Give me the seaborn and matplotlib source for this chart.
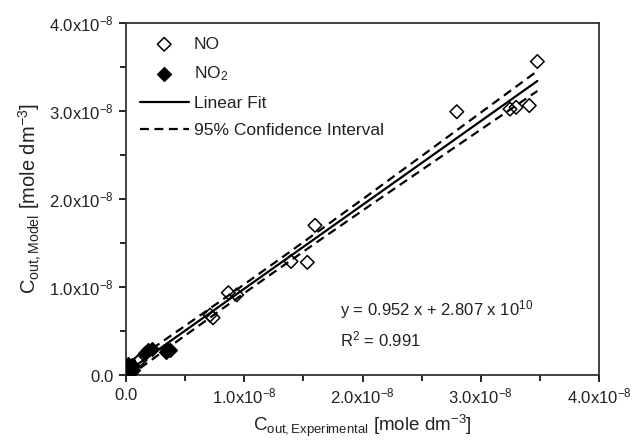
import numpy as np
import pandas as pd
import matplotlib
matplotlib.use('Agg')
import matplotlib.pyplot as plt
import seaborn as sns

# values in units of 1e-8 mole dm^-3
no_exp = [3.478, 2.797, 3.247, 3.298, 3.410, 1.598, 1.395, 1.533,
          0.865, 0.936, 0.710, 0.736, 0.100, 0.120]
no_model = [3.56, 2.99, 3.02, 3.04, 3.06, 1.70, 1.29, 1.28,
            0.935, 0.91, 0.68, 0.65, 0.15, 0.17]
no2_exp = [0.16, 0.19, 0.22, 0.34, 0.37, 0.35, 0.05, 0.06, 0.03, 0.04, 0.02]
no2_model = [0.25, 0.28, 0.29, 0.26, 0.28, 0.29, 0.11, 0.06, 0.08, 0.03, 0.12]

slope = 0.952
intercept = 2.807e-10
t_95 = 2.06

tick_vals = [0.0, 1e-8, 2e-8, 3e-8, 4e-8]
tick_labels = [r'$\mathregular{0.0}$', r'$\mathregular{1.0x10^{-8}}$',
               r'$\mathregular{2.0x10^{-8}}$', r'$\mathregular{3.0x10^{-8}}$',
               r'$\mathregular{4.0x10^{-8}}$']

sns.set_style("ticks")
plt.rcParams['font.family'] = ['Liberation Sans', 'DejaVu Sans']
plt.rcParams['mathtext.fontset'] = 'custom'
plt.rcParams['mathtext.rm'] = 'Liberation Sans'
plt.rcParams['mathtext.it'] = 'Liberation Sans:italic'

df = pd.DataFrame({
    'exp': np.concatenate([no_exp, no2_exp]) * 1e-8,
    'model': np.concatenate([no_model, no2_model]) * 1e-8,
    'species': ['NO'] * len(no_exp) + ['NO2'] * len(no2_exp),
})

# linear fit and 95% confidence band of the mean
xs = np.linspace(df['exp'].min(), df['exp'].max(), 200)
fit = slope * xs + intercept
resid = df['model'] - (slope * df['exp'] + intercept)
n = len(df)
s = np.sqrt((resid ** 2).sum() / (n - 2))
xm = df['exp'].mean()
sxx = ((df['exp'] - xm) ** 2).sum()
half = t_95 * s * np.sqrt(1 / n + (xs - xm) ** 2 / sxx)

fig = plt.figure(figsize=(6.38, 4.47), dpi=100)
ax = fig.add_axes([0.1975, 0.161, 0.7415, 0.788])

sns.scatterplot(data=df[df['species'] == 'NO'], x='exp', y='model', ax=ax,
                marker='D', s=48, facecolor='none', edgecolor='black',
                linewidth=1.1, label='NO', zorder=3)
sns.scatterplot(data=df[df['species'] == 'NO2'], x='exp', y='model', ax=ax,
                marker='D', s=48, color='black', edgecolor='black',
                linewidth=1.1, label=r'NO$_2$', zorder=3)
ax.plot(xs, fit, color='black', lw=1.6, label='Linear Fit')
ax.plot(xs, fit + half, color='black', lw=1.6, ls=(0, (4, 2.5)),
        label='95% Confidence Interval')
ax.plot(xs, fit - half, color='black', lw=1.6, ls=(0, (4, 2.5)))

ax.set_xlim(0, 4e-8)
ax.set_ylim(0, 4e-8)
ax.set_xticks(tick_vals, tick_labels)
ax.set_yticks(tick_vals, tick_labels)
ax.set_xticks([0.5e-8, 1.5e-8, 2.5e-8, 3.5e-8], minor=True)
ax.set_yticks([0.5e-8, 1.5e-8, 2.5e-8, 3.5e-8], minor=True)
ax.tick_params(which='both', direction='out', width=1.2, labelsize=12,
               color='black', labelcolor='#222222')
ax.tick_params(which='major', length=5)
ax.tick_params(which='minor', length=4)
for sp in ax.spines.values():
    sp.set_visible(True)
    sp.set_linewidth(1.3)
    sp.set_color('#333333')

ax.set_xlabel(r'$\mathregular{C_{out,Experimental}}$ [mole dm$^{\mathregular{-3}}$]',
              fontsize=13.5, color='#222222', labelpad=4)
ax.set_ylabel(r'$\mathregular{C_{out,Model}}$ [mole dm$^{\mathregular{-3}}$]',
              fontsize=14.5, color='#222222', labelpad=4)

ax.text(0.452, 0.168, r'y = 0.952 x + 2.807 x 10$^{\mathregular{10}}$',
        transform=ax.transAxes, fontsize=12, color='#222222', va='baseline')
ax.text(0.452, 0.08, r'R$^{\mathregular{2}}$ = 0.991',
        transform=ax.transAxes, fontsize=12, color='#222222', va='baseline')

ax.legend(loc='upper left', frameon=False, fontsize=12.5, handlelength=2.8,
          labelspacing=0.72, handletextpad=0.3, borderaxespad=0.4,
          labelcolor='#222222')

fig.savefig('out.png', dpi=100)
